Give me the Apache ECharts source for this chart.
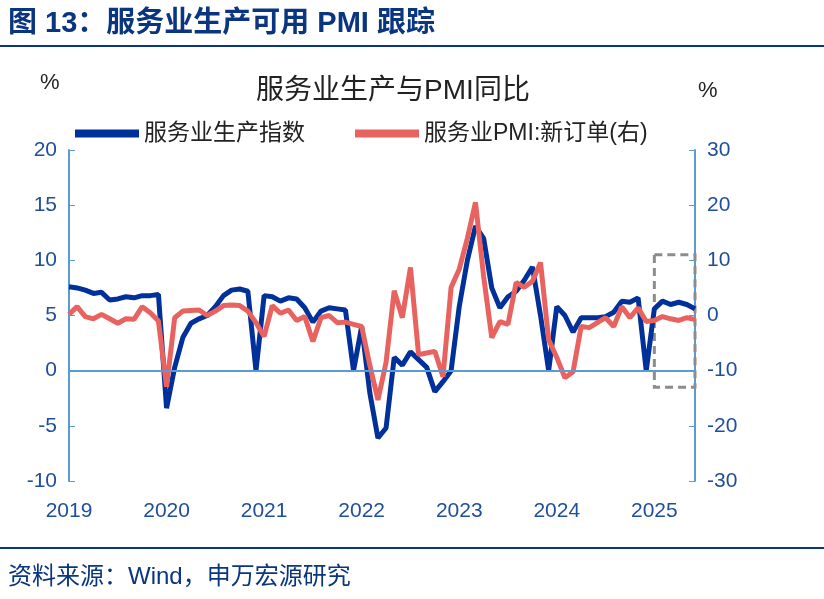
<!DOCTYPE html>
<html>
<head>
<meta charset="utf-8">
<script src="https://cdn.jsdelivr.net/npm/echarts@6/dist/echarts.min.js"></script>
<style>html,body{margin:0;padding:0;background:#fff}#main{width:824px;height:599px}</style>
</head>
<body>
<div id="main"></div>
<script>
var years = ['2019', '2020', '2021', '2022', '2023', '2024', '2025'];
// services production index, y/y %, monthly from 2019
var servicesIndex = [7.6, 7.5, 7.3, 7.0, 7.1, 6.4, 6.5, 6.7, 6.6, 6.8, 6.8, 6.9,
    -3.4, 0.3, 3.0, 4.3, 4.7, 5.0, 5.8, 6.8, 7.3, 7.4, 7.2, 0,
    6.8, 6.7, 6.3, 6.6, 6.5, 5.7, 4.4, 5.4, 5.7, 5.6, 5.5, 0,
    4.0, -2.0, -6.1, -5.2, 1.2, 0.5, 1.7, 1.0, 0.3, -1.9, -1.0, 0,
    5.8, 10.0, 13.1, 12.0, 7.5, 5.7, 6.7, 7.2, 8.2, 9.4, 5.0, 0,
    5.8, 5.0, 3.5, 4.8, 4.8, 4.8, 4.9, 5.3, 6.3, 6.2, 6.6, 0,
    5.6, 6.3, 6.0, 6.2, 6.0, 5.6];
// services PMI new orders, y/y % (right axis)
var pmiNewOrders = [0.2, 1.6, -0.2, -0.6, 0.2, -0.6, -1.4, -0.6, -0.7, 1.6, 0.5, -1.0,
    -12.9, -0.4, 0.8, 0.9, 1.0, 0, 0.8, 1.8, 1.9, 1.8, 0.8, -1.3,
    -3.8, 1.8, 0.4, 1.0, -0.9, -0.2, -4.7, -0.4, 0, -1.3, -1.2, -1.6,
    -2.0, -9.0, -15.3, -8.5, 4.5, -0.4, 8.7, -7.1, -6.8, -6.5, -11.1, 5.1,
    8.4, 14.0, 20.5, 7.1, -4.0, -1.1, -1.6, 6.0, 5.1, 6.2, 9.6, -4.4,
    -7.6, -11.3, -10.2, -2.0, -2.2, -1.3, -0.4, -2.0, 1.6, -0.4, 1.4, -1.1,
    -0.9, -0.2, -0.6, -0.9, -0.4, -0.7];

var months = [];
for (var i = 0; i < servicesIndex.length; i++) {
    months.push(years[Math.floor(i / 12)] + '-' + (i % 12 + 1));
}

var chart = echarts.init(document.getElementById('main'));
var axisBlue = '#5b9bd5';
var textBlue = '#1f4e9c';
var font = 'Arial, "Noto Sans CJK SC", sans-serif';

var option = {
    animation: false,
    textStyle: { fontFamily: font },
    title: {
        text: '服务业生产与PMI同比',
        left: 388, top: 72, textAlign: 'center',
        textStyle: { fontSize: 28, fontWeight: 'normal', color: '#222', fontFamily: font }
    },
    legend: {
        top: 117, left: 70, itemGap: 50, itemWidth: 64, itemHeight: 8,
        icon: 'rect',
        textStyle: { fontSize: 23, color: '#222', fontFamily: font },
        data: ['服务业生产指数', '服务业PMI:新订单(右)']
    },
    grid: { left: 69, right: 129, top: 150, bottom: 118 },
    xAxis: {
        type: 'category',
        data: months,
        boundaryGap: false,
        axisLine: { show: false },
        axisTick: { show: false },
        axisLabel: {
            fontSize: 21, color: textBlue, margin: 20,
            interval: function (idx) { return idx % 12 === 0; },
            formatter: function (v) { return v.split('-')[0]; }
        }
    },
    yAxis: [{
        type: 'value', min: -10, max: 20, interval: 5,
        axisLine: { show: true, lineStyle: { color: axisBlue, width: 2 } },
        axisTick: { show: true, inside: true, length: 6, lineStyle: { color: axisBlue } },
        splitLine: { show: false },
        axisLabel: { fontSize: 21, color: textBlue, margin: 12 }
    }, {
        type: 'value', min: -30, max: 30, interval: 10,
        axisLine: { show: true, lineStyle: { color: axisBlue, width: 2 } },
        axisTick: { show: true, inside: true, length: 6, lineStyle: { color: axisBlue } },
        splitLine: { show: false },
        axisLabel: { fontSize: 21, color: textBlue, margin: 12 }
    }],
    series: [{
        name: '服务业生产指数',
        type: 'line',
        data: servicesIndex,
        symbol: 'none',
        lineStyle: { color: '#00309a', width: 5 },
        itemStyle: { color: '#00309a' },
        markLine: {
            silent: true, symbol: 'none', label: { show: false },
            lineStyle: { color: axisBlue, width: 2, type: 'solid' },
            data: [{ yAxis: 0 }]
        },
        markArea: {
            silent: true,
            itemStyle: { color: 'rgba(0,0,0,0)', borderColor: '#8c8c8c', borderWidth: 3, borderType: [8, 5] },
            data: [[{ xAxis: months[72], yAxis: 10.5 }, { xAxis: months[77], yAxis: -1.5 }]]
        }
    }, {
        name: '服务业PMI:新订单(右)',
        type: 'line',
        yAxisIndex: 1,
        data: pmiNewOrders,
        symbol: 'none',
        lineStyle: { color: '#e8635f', width: 5 },
        itemStyle: { color: '#e8635f' }
    }],
    graphic: [
        { type: 'text', left: 8, top: 9, style: { text: '图 13：服务业生产可用 PMI 跟踪', font: 'bold 29px ' + font, fill: '#0a3580' } },
        { type: 'line', shape: { x1: 0, y1: 46, x2: 824, y2: 46 }, style: { stroke: '#0a3580', lineWidth: 2 } },
        { type: 'text', left: 40, top: 72, style: { text: '%', font: '22px ' + font, fill: '#222' } },
        { type: 'text', left: 698, top: 80, style: { text: '%', font: '22px ' + font, fill: '#222' } },
        { type: 'line', shape: { x1: 0, y1: 548, x2: 824, y2: 548 }, style: { stroke: '#0a3580', lineWidth: 2 } },
        { type: 'text', left: 8, top: 565, style: { text: '资料来源：Wind，申万宏源研究', font: '24px ' + font, fill: '#0a3580' } }
    ]
};
chart.setOption(option);
</script>
</body>
</html>
